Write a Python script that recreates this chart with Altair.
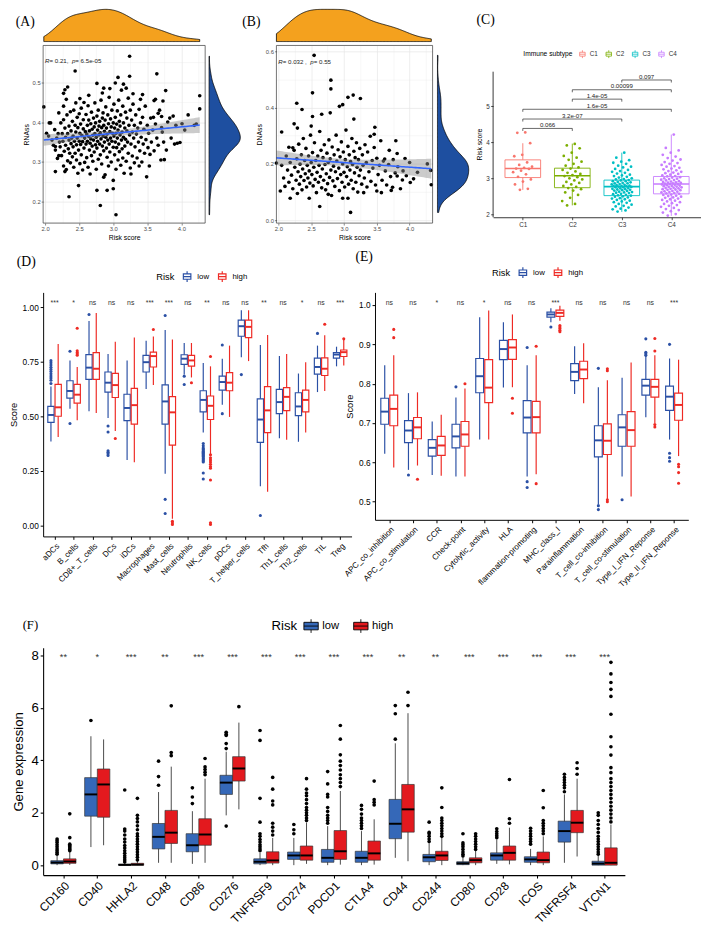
import json
import numpy as np
import pandas as pd
import altair as alt

FONT = "Liberation Sans"
SERIF = "Liberation Serif"
ORANGE = "#F4A11E"
DBLUE = "#1E4FA0"
LOWC = "#2B50A5"
HIGHC = "#EE2A24"
F_LOW = "#3568B8"
F_HIGH = "#E3191E"
C_COLS = ["#F8766D", "#7CAE00", "#00BFC4", "#C77CFF"]

# ---------------- data: panel A (Risk score vs RNAss) ----------------
A_points = [
    (3.24, 0.565), (2.44, 0.528), (3.64, 0.521), (3.07, 0.512), (3.24, 0.515), (2.76, 0.497), (3.03, 0.498),
    (2.33, 0.488), (2.29, 0.481), (2.27, 0.472), (2.31, 0.457), (3.15, 0.495), (3.19, 0.485), (3.12, 0.48),
    (3.77, 0.479), (2.86, 0.485), (2.95, 0.484), (2.84, 0.473), (2.64, 0.467), (3.29, 0.471), (3.43, 0.469),
    (3.40, 0.457), (4.27, 0.466), (1.98, 0.438), (2.27, 0.44), (2.51, 0.459), (2.57, 0.449), (3.60, 0.454),
    (3.62, 0.457), (3.73, 0.453), (4.27, 0.433), (3.66, 0.422), (3.71, 0.414), (3.59, 0.412), (4.01, 0.396),
    (3.92, 0.392), (3.83, 0.41), (3.71, 0.386), (4.19, 0.392), (3.94, 0.347), (3.98, 0.349), (2.06, 0.398),
    (2.05, 0.365), (2.15, 0.339), (2.20, 0.316), (2.15, 0.276), (2.29, 0.276), (2.35, 0.213), (2.49, 0.241),
    (2.76, 0.229), (2.81, 0.191), (2.91, 0.229), (3.0, 0.233), (3.04, 0.168), (3.0, 0.254), (2.86, 0.262),
    (3.49, 0.263), (3.75, 0.306), (3.54, 0.319), (3.38, 0.29), (3.26, 0.27),
    (2.02, 0.372), (2.08, 0.398), (2.10, 0.355), (2.12, 0.342), (2.14, 0.381), (2.15, 0.33), (2.17, 0.36),
    (2.18, 0.309), (2.19, 0.371), (2.2, 0.423), (2.21, 0.35),
    (2.22, 0.338), (2.23, 0.398), (2.24, 0.316), (2.25, 0.371), (2.26, 0.352), (2.27, 0.29), (2.27, 0.406),
    (2.28, 0.327), (2.29, 0.385), (2.3, 0.342), (2.3, 0.362), (2.31, 0.281), (2.32, 0.418), (2.33, 0.303),
    (2.33, 0.371), (2.34, 0.333), (2.35, 0.355), (2.35, 0.39), (2.36, 0.322), (2.37, 0.426), (2.37, 0.298),
    (2.38, 0.346), (2.38, 0.378), (2.39, 0.36), (2.4, 0.313), (2.4, 0.402),
    (2.41, 0.338), (2.41, 0.365), (2.42, 0.287), (2.42, 0.43), (2.43, 0.352), (2.44, 0.392), (2.44, 0.322),
    (2.45, 0.375), (2.45, 0.448), (2.46, 0.305), (2.46, 0.343), (2.47, 0.412), (2.47, 0.36), (2.48, 0.272),
    (2.48, 0.386), (2.49, 0.33), (2.5, 0.352), (2.5, 0.421), (2.51, 0.296), (2.51, 0.372), (2.52, 0.344),
    (2.52, 0.395), (2.53, 0.318), (2.53, 0.435), (2.54, 0.366), (2.55, 0.28), (2.55, 0.351), (2.56, 0.383),
    (2.56, 0.406), (2.57, 0.335), (2.58, 0.36), (2.58, 0.299), (2.59, 0.376), (2.6, 0.345), (2.6, 0.419),
    (2.61, 0.37), (2.61, 0.311), (2.62, 0.392), (2.62, 0.352), (2.63, 0.441), (2.63, 0.287), (2.64, 0.364),
    (2.64, 0.405), (2.65, 0.33), (2.65, 0.378), (2.66, 0.347), (2.66, 0.27), (2.67, 0.396), (2.67, 0.358),
    (2.68, 0.316), (2.68, 0.425), (2.69, 0.382), (2.69, 0.34), (2.7, 0.367), (2.7, 0.302), (2.71, 0.41),
    (2.71, 0.355), (2.72, 0.388), (2.72, 0.325), (2.73, 0.448), (2.73, 0.371), (2.74, 0.343), (2.74, 0.398),
    (2.75, 0.282), (2.75, 0.362), (2.76, 0.415), (2.76, 0.335), (2.77, 0.38), (2.77, 0.352), (2.78, 0.307),
    (2.78, 0.43), (2.79, 0.39), (2.79, 0.368), (2.8, 0.345), (2.8, 0.402),
    (2.81, 0.373), (2.81, 0.318), (2.82, 0.455), (2.82, 0.358), (2.83, 0.386), (2.83, 0.295), (2.84, 0.41),
    (2.84, 0.34), (2.85, 0.365), (2.85, 0.423), (2.86, 0.328), (2.86, 0.392), (2.87, 0.35), (2.87, 0.377),
    (2.88, 0.268), (2.88, 0.405), (2.89, 0.362), (2.89, 0.438), (2.9, 0.335), (2.9, 0.385), (2.91, 0.312),
    (2.91, 0.37), (2.92, 0.418), (2.92, 0.355), (2.93, 0.396), (2.93, 0.29), (2.94, 0.345), (2.94, 0.462),
    (2.95, 0.376), (2.95, 0.325), (2.96, 0.408), (2.96, 0.36), (2.97, 0.388), (2.97, 0.3), (2.98, 0.43),
    (2.98, 0.352), (2.99, 0.372), (3.0, 0.337), (3.0, 0.398),
    (3.01, 0.365), (3.01, 0.445), (3.02, 0.318), (3.02, 0.385), (3.03, 0.35), (3.03, 0.412), (3.04, 0.282),
    (3.04, 0.372), (3.05, 0.395), (3.05, 0.336), (3.06, 0.428), (3.06, 0.36), (3.07, 0.305), (3.07, 0.38),
    (3.08, 0.345), (3.08, 0.455), (3.09, 0.402), (3.09, 0.326), (3.1, 0.368), (3.1, 0.39), (3.11, 0.292),
    (3.11, 0.418), (3.12, 0.355), (3.13, 0.375), (3.13, 0.333), (3.14, 0.44), (3.14, 0.31), (3.15, 0.398),
    (3.15, 0.362), (3.16, 0.272), (3.17, 0.385), (3.17, 0.34), (3.18, 0.425), (3.18, 0.357), (3.19, 0.302),
    (3.2, 0.378), (3.2, 0.41),
    (3.21, 0.35), (3.22, 0.46), (3.22, 0.322), (3.23, 0.392), (3.24, 0.368), (3.25, 0.285), (3.25, 0.43),
    (3.26, 0.345), (3.27, 0.405), (3.28, 0.315), (3.28, 0.375), (3.29, 0.445), (3.3, 0.36), (3.31, 0.298),
    (3.31, 0.392), (3.32, 0.338), (3.33, 0.418), (3.34, 0.37), (3.35, 0.31), (3.36, 0.385), (3.37, 0.35),
    (3.38, 0.432), (3.39, 0.328), (3.4, 0.398),
    (3.41, 0.362), (3.42, 0.3), (3.43, 0.412), (3.44, 0.345), (3.45, 0.382), (3.46, 0.322), (3.47, 0.44),
    (3.48, 0.356), (3.5, 0.392), (3.51, 0.336), (3.52, 0.372), (3.53, 0.29), (3.55, 0.41), (3.56, 0.35),
    (3.58, 0.38), (3.6, 0.328),
    (3.62, 0.395), (3.64, 0.36), (3.66, 0.342), (3.68, 0.43), (3.7, 0.305), (3.72, 0.375), (3.74, 0.35),
    (3.78, 0.33), (3.8, 0.4), (3.85, 0.36), (3.88, 0.415), (3.9, 0.345), (4.05, 0.38), (4.1, 0.418), (4.22, 0.395),
]

# ---------------- data: panel B (Risk score vs DNAss) ----------------
B_points = [
    (2.545, 0.585), (2.80, 0.497), (2.80, 0.466), (2.52, 0.452), (3.14, 0.444), (3.06, 0.436), (3.25, 0.432),
    (2.28, 0.415), (2.36, 0.393), (2.93, 0.404), (2.98, 0.41), (2.24, 0.342), (2.29, 0.327), (2.05, 0.313),
    (2.50, 0.334), (2.52, 0.368), (2.66, 0.376), (2.79, 0.381), (3.15, 0.359), (3.47, 0.33), (3.46, 0.305),
    (3.79, 0.282), (3.69, 0.248), (3.81, 0.237), (3.62, 0.217), (3.93, 0.219), (4.27, 0.2), (4.32, 0.177),
    (4.33, 0.126), (2.16, 0.259), (2.22, 0.257), (1.97, 0.203), (2.03, 0.104), (2.18, 0.078), (2.47, 0.078),
    (2.63, 0.049), (3.1, 0.028), (2.76, 0.092), (2.98, 0.078), (3.06, 0.078), (3.30, 0.098), (3.50, 0.104),
    (3.57, 0.098), (3.74, 0.117), (3.72, 0.106), (3.89, 0.143), (4.01, 0.134), (4.06, 0.147), (3.81, 0.157),
    (2.05, 0.195), (2.08, 0.15), (2.1, 0.12), (2.12, 0.228), (2.14, 0.178), (2.16, 0.135), (2.18, 0.205),
    (2.2, 0.16), (2.22, 0.112), (2.24, 0.248), (2.25, 0.188), (2.27, 0.142), (2.28, 0.218), (2.29, 0.095),
    (2.3, 0.172),
    (2.31, 0.27), (2.32, 0.128), (2.33, 0.199), (2.34, 0.155), (2.35, 0.232), (2.36, 0.108), (2.37, 0.182),
    (2.38, 0.29), (2.39, 0.141), (2.4, 0.212), (2.41, 0.165), (2.42, 0.255), (2.43, 0.118), (2.44, 0.195),
    (2.45, 0.15), (2.46, 0.228), (2.47, 0.175), (2.48, 0.132), (2.49, 0.302), (2.5, 0.205),
    (2.51, 0.162), (2.52, 0.24), (2.53, 0.122), (2.54, 0.188), (2.55, 0.275), (2.56, 0.145), (2.57, 0.212),
    (2.58, 0.098), (2.59, 0.17), (2.6, 0.228), (2.61, 0.135), (2.62, 0.195), (2.63, 0.315), (2.64, 0.155),
    (2.65, 0.248), (2.66, 0.115), (2.67, 0.182), (2.68, 0.222), (2.69, 0.142), (2.7, 0.268),
    (2.71, 0.198), (2.72, 0.108), (2.73, 0.165), (2.74, 0.238), (2.75, 0.13), (2.76, 0.205), (2.77, 0.285),
    (2.78, 0.152), (2.79, 0.218), (2.8, 0.178), (2.81, 0.088), (2.82, 0.26), (2.83, 0.14), (2.84, 0.192),
    (2.85, 0.232), (2.86, 0.12), (2.87, 0.172), (2.88, 0.302), (2.89, 0.21), (2.9, 0.148),
    (2.91, 0.25), (2.92, 0.185), (2.93, 0.105), (2.94, 0.225), (2.95, 0.162), (2.96, 0.278), (2.97, 0.135),
    (2.98, 0.2), (2.99, 0.242), (3.0, 0.17), (3.01, 0.118), (3.02, 0.215), (3.03, 0.32), (3.04, 0.155),
    (3.05, 0.19), (3.06, 0.262), (3.07, 0.128), (3.08, 0.232), (3.09, 0.178), (3.1, 0.208),
    (3.11, 0.142), (3.12, 0.29), (3.13, 0.198), (3.14, 0.112), (3.15, 0.245), (3.16, 0.168), (3.17, 0.222),
    (3.18, 0.135), (3.19, 0.275), (3.2, 0.188), (3.21, 0.1), (3.22, 0.215), (3.23, 0.158), (3.24, 0.255),
    (3.25, 0.178), (3.27, 0.128), (3.28, 0.232), (3.29, 0.195),
    (3.31, 0.15), (3.32, 0.268), (3.34, 0.205), (3.35, 0.118), (3.36, 0.242), (3.38, 0.172), (3.4, 0.298),
    (3.41, 0.138), (3.43, 0.212), (3.44, 0.185), (3.46, 0.258), (3.48, 0.125), (3.5, 0.22), (3.52, 0.162),
    (3.54, 0.195), (3.56, 0.282), (3.58, 0.142),
    (3.6, 0.21), (3.63, 0.175), (3.65, 0.125), (3.68, 0.198), (3.71, 0.155), (3.75, 0.215), (3.78, 0.168),
    (3.82, 0.19), (3.86, 0.112), (3.9, 0.175), (3.95, 0.158), (4.0, 0.205), (4.12, 0.17),
]

# ---------------- data: panel C (risk score by immune subtype) ----------------
C_groups = ["C1", "C2", "C3", "C4"]
C_q1 = [3.03, 2.75, 2.53, 2.58]
C_med = [3.28, 3.08, 2.78, 2.85]
C_q3 = [3.52, 3.29, 2.96, 3.06]
C_lw = [2.69, 2.26, 2.08, 1.97]
C_uw = [3.98, 3.97, 3.72, 4.22]
C1_vals = [4.28, 4.27, 3.98, 3.66, 3.62, 3.45, 3.38, 3.33, 3.3, 3.28, 3.27, 3.22, 3.18, 3.12, 3.05, 2.98,
           2.92, 2.84, 2.72, 2.69]
C2_vals = [3.96, 3.92, 3.84, 3.72, 3.63, 3.58, 3.52, 3.47, 3.41, 3.36, 3.31, 3.28, 3.24, 3.2, 3.16, 3.13,
           3.1, 3.07, 3.04, 3.01, 2.98, 2.95, 2.91, 2.88, 2.84, 2.8, 2.77, 2.74, 2.71, 2.67, 2.62, 2.55, 2.47,
           2.38, 2.3, 2.26]
C3_vals = [3.72, 3.58, 3.51, 3.47, 3.44, 3.41, 3.36, 3.33, 3.31, 3.27, 3.24, 3.21, 3.19, 3.16, 3.14, 3.11,
           3.09, 3.07, 3.05, 3.03, 3.01, 2.99, 2.98, 2.96, 2.95, 2.93, 2.93, 2.91, 2.9, 2.88, 2.87, 2.87, 2.85,
           2.84, 2.83, 2.82, 2.81, 2.8, 2.8, 2.79, 2.78, 2.77, 2.76, 2.76, 2.74, 2.73, 2.72, 2.71, 2.7, 2.69,
           2.68, 2.67, 2.66, 2.64, 2.63, 2.62, 2.61, 2.6, 2.58, 2.57, 2.55, 2.54, 2.53, 2.51, 2.5, 2.48, 2.46,
           2.45, 2.43, 2.41, 2.39, 2.37, 2.35, 2.33, 2.3, 2.28, 2.25, 2.23, 2.2, 2.17, 2.15, 2.12, 2.09]
C4_vals = [4.22, 3.85, 3.78, 3.72, 3.66, 3.61, 3.57, 3.53, 3.5, 3.46, 3.43, 3.41, 3.38, 3.35, 3.33, 3.3,
           3.28, 3.26, 3.23, 3.21, 3.19, 3.17, 3.15, 3.13, 3.11, 3.09, 3.07, 3.06, 3.04, 3.03, 3.01, 3.0,
           2.99, 2.97, 2.96, 2.95, 2.93, 2.92, 2.91, 2.9, 2.89, 2.88, 2.87, 2.86, 2.85, 2.85, 2.84, 2.83,
           2.82, 2.81, 2.8, 2.79, 2.78, 2.77, 2.76, 2.75, 2.74, 2.73, 2.72, 2.71, 2.7, 2.69, 2.68, 2.66,
           2.65, 2.64, 2.63, 2.62, 2.6, 2.59, 2.58, 2.56, 2.55, 2.53, 2.52, 2.5, 2.48, 2.47, 2.45, 2.43,
           2.41, 2.39, 2.37, 2.35, 2.32, 2.3, 2.27, 2.25, 2.22, 2.19, 2.16, 2.13, 2.1, 2.06, 2.02, 1.98]
C_br_from = [0, 0, 0, 1, 1, 2]
C_br_to = [1, 2, 3, 2, 3, 3]
C_br_y = [4.39, 4.65, 4.92, 5.20, 5.46, 5.73]
C_br_lab = ["0.066", "3.2e-07", "1.6e-05", "1.4e-05", "0.00099", "0.097"]

# ---------------- data: panel D (immune cell scores) ----------------
D_cats = ["aDCs", "B_cells", "CD8+_T_cells", "DCs", "iDCs", "Macrophages", "Mast_cells", "Neutrophils",
          "NK_cells", "pDCs", "T_helper_cells", "Tfh", "Th1_cells", "Th2_cells", "TIL", "Treg"]
D_low = dict(
    q1=[0.472, 0.583, 0.669, 0.611, 0.480, 0.703, 0.464, 0.738, 0.520, 0.620, 0.867, 0.380, 0.512, 0.503, 0.693, 0.767],
    med=[0.506, 0.616, 0.723, 0.654, 0.538, 0.748, 0.568, 0.764, 0.575, 0.657, 0.913, 0.485, 0.565, 0.545, 0.726, 0.783],
    q3=[0.545, 0.663, 0.783, 0.703, 0.601, 0.779, 0.644, 0.782, 0.617, 0.684, 0.941, 0.580, 0.623, 0.608, 0.767, 0.792],
    lw=[0.384, 0.535, 0.523, 0.492, 0.300, 0.625, 0.236, 0.691, 0.425, 0.553, 0.771, 0.179, 0.399, 0.383, 0.611, 0.729],
    uw=[0.636, 0.756, 0.937, 0.786, 0.756, 0.846, 0.896, 0.836, 0.744, 0.764, 0.986, 0.827, 0.776, 0.696, 0.824, 0.819],
)
D_high = dict(
    q1=[0.500, 0.560, 0.669, 0.586, 0.464, 0.726, 0.368, 0.730, 0.485, 0.617, 0.861, 0.425, 0.526, 0.520, 0.687, 0.774],
    med=[0.541, 0.599, 0.718, 0.643, 0.551, 0.776, 0.518, 0.756, 0.548, 0.654, 0.910, 0.527, 0.589, 0.575, 0.718, 0.794],
    q3=[0.646, 0.646, 0.792, 0.697, 0.628, 0.794, 0.590, 0.779, 0.593, 0.700, 0.941, 0.636, 0.631, 0.620, 0.768, 0.804],
    lw=[0.405, 0.482, 0.515, 0.432, 0.289, 0.643, 0.030, 0.678, 0.327, 0.497, 0.753, 0.154, 0.392, 0.425, 0.616, 0.733],
    uw=[0.831, 0.726, 0.973, 0.842, 0.861, 0.866, 0.852, 0.836, 0.729, 0.824, 0.986, 0.873, 0.786, 0.748, 0.872, 0.854],
)
D_out_low = [
    [0.65, 0.665, 0.675, 0.685, 0.695, 0.705, 0.715, 0.725, 0.735, 0.745, 0.755], [0.798, 0.467], [0.967],
    [0.455, 0.428, 0.342, 0.335, 0.328, 0.320], [], [], [0.962, 0.119, 0.054], [0.684, 0.646],
    [0.375, 0.365, 0.355, 0.35, 0.345, 0.34, 0.335, 0.33, 0.325, 0.32, 0.315, 0.31, 0.305, 0.30, 0.295, 0.29,
     0.24, 0.212],
    [0.827, 0.512], [0.691], [0.045], [], [], [0.88], [],
]
D_out_high = [
    [], [0.904, 0.80, 0.792, 0.786, 0.78], [], [0.398], [], [0.898], [0.018, 0.010, 0.004], [0.654],
    [0.774, 0.323, 0.31, 0.30, 0.29, 0.28, 0.27, 0.262, 0.208, 0.012, 0.004], [], [], [], [], [], [0.922], [0.855],
]
D_sig = ["***", "*", "ns", "ns", "ns", "***", "***", "ns", "**", "ns", "ns", "**", "ns", "*", "ns", "***"]

# ---------------- data: panel E (immune function scores) ----------------
E_cats = ["APC_co_inhibition", "APC_co_stimulation", "CCR", "Check-point", "Cytolytic_activity", "HLA",
          "flammation-promoting", "MHC_class_I", "Parainflammation", "T_cell_co-inhibition",
          "T_cell_co-stimulation", "Type_I_IFN_Reponse", "Type_II_IFN_Reponse"]
E_low = dict(
    q1=[0.697, 0.650, 0.616, 0.637, 0.777, 0.861, 0.675, 0.969, 0.808, 0.614, 0.641, 0.771, 0.732],
    med=[0.729, 0.681, 0.637, 0.666, 0.819, 0.888, 0.714, 0.976, 0.830, 0.656, 0.689, 0.795, 0.767],
    q3=[0.763, 0.706, 0.658, 0.697, 0.864, 0.910, 0.757, 0.982, 0.851, 0.693, 0.721, 0.811, 0.794],
    lw=[0.622, 0.581, 0.568, 0.564, 0.658, 0.790, 0.564, 0.956, 0.774, 0.494, 0.564, 0.715, 0.658],
    uw=[0.847, 0.776, 0.704, 0.765, 0.969, 0.956, 0.847, 0.992, 0.895, 0.791, 0.815, 0.876, 0.864],
)
E_high = dict(
    q1=[0.693, 0.660, 0.618, 0.641, 0.752, 0.862, 0.675, 0.971, 0.813, 0.620, 0.641, 0.766, 0.707],
    med=[0.736, 0.689, 0.643, 0.671, 0.790, 0.892, 0.715, 0.980, 0.836, 0.655, 0.682, 0.792, 0.746],
    q3=[0.771, 0.714, 0.666, 0.704, 0.861, 0.912, 0.755, 0.987, 0.857, 0.698, 0.729, 0.811, 0.776],
    lw=[0.587, 0.592, 0.566, 0.564, 0.658, 0.791, 0.570, 0.960, 0.750, 0.507, 0.513, 0.700, 0.616],
    uw=[0.872, 0.778, 0.721, 0.788, 0.986, 0.976, 0.872, 0.998, 0.903, 0.809, 0.854, 0.872, 0.861],
)
E_out_low = [[], [0.568], [], [0.792], [], [], [0.892, 0.551, 0.536], [0.944], [], [0.839, 0.49, 0.48],
             [0.505], [0.914, 0.88, 0.876, 0.872], [0.9, 0.623, 0.612, 0.603]]
E_out_high = [[0.938, 0.917], [0.557], [], [0.80], [], [0.763, 0.725], [0.895, 0.546],
              [0.948, 0.944, 0.94, 0.936, 0.932], [], [0.838, 0.833, 0.505, 0.50], [],
              [0.915, 0.883, 0.696, 0.69], [0.595, 0.589, 0.574, 0.547]]
E_sig = ["ns", "ns", "*", "ns", "*", "ns", "ns", "***", "ns", "ns", "ns", "ns", "***"]

# ---------------- data: panel F (immune checkpoint gene expression) ----------------
F_cats = ["CD160", "CD40", "HHLA2", "CD48", "CD86", "CD276", "TNFRSF9", "CD274", "PDCD1", "CTLA4", "CD44",
          "CD244", "CD80", "CD28", "ICOS", "TNFRSF4", "VTCN1"]
F_low = dict(
    q1=[0.05, 1.87, 0.0, 0.62, 0.51, 2.70, 0.05, 0.22, 0.11, 0.11, 1.01, 0.13, 0.02, 0.19, 0.11, 0.88, 0.0],
    med=[0.10, 2.70, 0.01, 1.08, 0.76, 3.15, 0.13, 0.37, 0.28, 0.28, 1.58, 0.30, 0.07, 0.37, 0.22, 1.30, 0.06],
    q3=[0.17, 3.34, 0.04, 1.59, 1.20, 3.43, 0.24, 0.50, 0.60, 0.53, 2.51, 0.41, 0.13, 0.47, 0.32, 1.68, 0.15],
    lw=[0.0, 0.69, 0.0, 0.09, 0.05, 1.90, 0.0, 0.0, 0.0, 0.0, 0.28, 0.0, 0.0, 0.05, 0.0, 0.09, 0.0],
    uw=[0.35, 4.92, 0.09, 2.79, 2.06, 4.33, 0.47, 1.04, 1.49, 1.30, 4.65, 0.83, 0.30, 0.98, 0.62, 2.70, 0.37],
)
F_high = dict(
    q1=[0.07, 1.83, 0.0, 0.83, 0.76, 3.21, 0.08, 0.19, 0.22, 0.19, 1.26, 0.18, 0.09, 0.19, 0.09, 1.24, 0.0],
    med=[0.14, 3.08, 0.02, 1.24, 1.17, 3.69, 0.18, 0.37, 0.53, 0.45, 2.13, 0.37, 0.19, 0.47, 0.19, 1.62, 0.09],
    q3=[0.24, 3.67, 0.07, 2.09, 1.77, 4.14, 0.51, 0.73, 1.32, 0.92, 3.08, 0.53, 0.28, 0.73, 0.50, 2.09, 0.66],
    lw=[0.01, 0.76, 0.0, 0.09, 0.09, 2.13, 0.0, 0.05, 0.02, 0.02, 0.15, 0.0, 0.0, 0.03, 0.0, 0.33, 0.0],
    uw=[0.50, 4.80, 0.17, 3.76, 3.30, 5.44, 1.04, 1.62, 2.83, 1.75, 5.80, 1.04, 0.55, 1.43, 1.10, 3.30, 1.55],
)
F_out_low = [
    [0.42, 0.48, 0.55, 0.62, 0.7, 0.78, 0.86, 0.93, 1.0], [5.52],
    [0.12, 0.2, 0.28, 0.36, 0.45, 0.55, 0.65, 0.75, 0.88, 1.0, 1.15, 1.3, 1.38, 2.87], [3.05, 3.38, 3.97],
    [2.35, 2.6, 2.95], [1.49, 4.45, 4.64, 4.95, 5.0, 5.07],
    [0.55, 0.62, 0.7, 0.78, 0.88, 0.98, 1.1, 1.2, 1.64, 2.55, 4.76, 5.14], [1.2, 1.35, 1.55],
    [1.6, 1.7, 1.8, 1.9, 2.05, 2.2, 2.6, 2.7, 3.1, 3.57], [1.4, 1.5, 1.6, 1.7, 1.8, 1.95, 2.13, 2.28],
    [4.81, 5.78, 6.09], [0.9, 1.0, 1.1, 1.2, 1.25, 1.64], [0.35, 0.42, 0.5, 0.6, 0.7, 0.78, 0.85, 1.2],
    [1.05, 1.12, 1.2, 1.28, 1.39], [0.8, 0.9, 1.0, 1.1, 1.2, 1.3, 1.41], [2.8, 2.95, 3.05, 3.15, 3.25, 3.35, 3.47],
    [0.42, 0.5, 0.6, 0.7, 0.8, 0.9, 1.0, 1.1, 1.25, 1.4, 1.55, 1.7, 1.9, 2.0],
]
F_out_high = [
    [0.55, 0.6, 0.65, 0.7, 0.75, 0.8, 1.05, 1.96], [],
    [0.2, 0.3, 0.4, 0.5, 0.6, 0.7, 0.8, 0.9, 1.0, 1.1, 1.2, 1.35, 1.5, 1.65, 1.78, 1.9, 2.55], [4.18, 4.3, 6.08],
    [3.45, 3.55, 3.65, 3.75, 4.07], [6.05], [1.15, 1.3, 1.45, 1.6, 2.3, 2.45, 2.9, 3.35],
    [1.7, 1.8, 1.9, 2.0, 2.1, 2.2, 2.35, 2.5, 2.65, 2.75, 2.9, 3.3],
    [3.0, 3.15, 3.3, 3.45, 3.63, 3.8, 3.97, 4.21, 4.81, 5.33], [2.3, 2.4, 2.5, 3.21], [6.09, 6.6],
    [1.1, 1.2, 1.3, 1.4, 1.5, 1.6, 1.7, 1.8, 2.2, 2.95], [0.6, 0.7, 0.8, 0.9, 1.0, 1.1, 1.2], [1.6, 1.77, 3.27],
    [1.2, 1.3, 1.4, 1.5, 1.6, 1.7, 2.19, 2.85], [3.47, 3.69, 3.91],
    [1.65, 1.8, 1.95, 2.1, 2.25, 2.4, 2.55, 2.7, 2.85, 3.0, 3.15, 3.3, 3.53, 3.72, 4.2, 4.52, 4.9, 5.76, 6.44,
     6.71, 6.97, 7.3, 7.74],
]
F_sig = ["**", "*", "***", "**", "***", "***", "***", "***", "***", "***", "**", "**", "***", "***", "***",
         "***", "***"]


# ---------------- helpers ----------------
def text_layer(txt, x, y, size, font=FONT, style="normal", align="left", baseline="middle", color="black"):
    return alt.Chart(pd.DataFrame({"t": [txt]})).mark_text(
        align=align, baseline=baseline, fontSize=size, font=font, fontStyle=style, color=color
    ).encode(x=alt.value(x), y=alt.value(y), text="t:N")


AW = {" ": .278, "=": .584, ".": .278, ",": .278, "-": .333, "e": .556, "R": .722, "p": .556}


def twidth(s, size):
    return sum(AW.get(ch, .556) for ch in s) * size


def nrd0(v):
    v = np.asarray(v, dtype=float)
    sd = v.std(ddof=1)
    q75, q25 = np.percentile(v, [75, 25])
    return 0.9 * min(sd, (q75 - q25) / 1.34) * len(v) ** -0.2


def indep(ch):
    return ch.resolve_scale(color="independent", stroke="independent", fill="independent").resolve_legend(
        color="independent", stroke="independent", fill="independent")


def scatter_block(pts, xdom, ydom, xmaj, xmnr, ymaj, ymnr, ytitle, W, H, TH, MW, tag, tagx, ann, annx, anny):
    df = pd.DataFrame(pts, columns=["x", "y"])
    xs = alt.Scale(domain=xdom, nice=False, zero=False)
    ys = alt.Scale(domain=ydom, nice=False, zero=False)
    xtest = f"indexof({json.dumps(xmaj)}, datum.value) >= 0"
    ytest = f"indexof({json.dumps(ymaj)}, datum.value) >= 0"
    common = dict(grid=True, gridColor="#E6E6E6", domain=False, tickColor="#333333", tickSize=2,
                  tickWidth=0.6, labelFontSize=6, labelColor="#4D4D4D", labelFont=FONT, labelPadding=1,
                  labelFlush=False, labelOverlap=False, titleFont=FONT, titleFontSize=7,
                  titleFontWeight="normal", titleColor="black")
    xax = alt.Axis(values=sorted(xmaj + xmnr), labelExpr=f"{xtest} ? format(datum.value, '.1f') : ''",
                   gridWidth={"condition": {"test": xtest, "value": 0.7}, "value": 0.35},
                   tickOpacity={"condition": {"test": xtest, "value": 1}, "value": 0},
                   title="Risk score", titlePadding=2, **common)
    yax = alt.Axis(values=sorted(ymaj + ymnr), labelExpr=f"{ytest} ? format(datum.value, '.1f') : ''",
                   gridWidth={"condition": {"test": ytest, "value": 0.7}, "value": 0.35},
                   tickOpacity={"condition": {"test": ytest, "value": 1}, "value": 0},
                   title=ytitle, titlePadding=3, **common)
    X = lambda f: alt.X(f, scale=xs, axis=xax)
    Y = lambda f: alt.Y(f, scale=ys, axis=yax)

    x = df.x.to_numpy()
    y = df.y.to_numpy()
    slope, icpt = np.polyfit(x, y, 1)
    n = len(x)
    resid = y - (icpt + slope * x)
    s = np.sqrt((resid ** 2).sum() / (n - 2))
    sxx = ((x - x.mean()) ** 2).sum()
    xg = np.linspace(x.min(), x.max(), 80)
    yh = icpt + slope * xg
    se = s * np.sqrt(1.0 / n + (xg - x.mean()) ** 2 / sxx)
    fit = pd.DataFrame({"x": xg, "fit": yh, "lo": yh - 1.968 * se, "hi": yh + 1.968 * se})

    pts_l = alt.Chart(df).mark_circle(size=14, color="black", opacity=1).encode(x=X("x:Q"), y=Y("y:Q"))
    band = alt.Chart(fit).mark_area(color="#8C8C8C", opacity=0.45).encode(x=X("x:Q"), y=Y("lo:Q"), y2="hi:Q")
    line = alt.Chart(fit).mark_line(color="#3366FF", strokeWidth=1.6).encode(x=X("x:Q"), y=Y("fit:Q"))
    frame = alt.Chart(pd.DataFrame({"a": [0]})).mark_rect(
        fill="white", fillOpacity=0, stroke="#333333", strokeWidth=0.7
    ).encode(x=alt.value(0), x2=alt.value(W), y=alt.value(0), y2=alt.value(H))
    ann_layers = []
    cx = annx
    for part, italic in ann:
        ann_layers.append(text_layer(part, cx, anny, 6.3, style="italic" if italic else "normal", color="#222"))
        cx += twidth(part, 6.3)
    scat = alt.layer(pts_l, band, line, frame, *ann_layers).properties(width=W, height=H)

    top_d = alt.Chart(df).transform_density(
        "x", as_=["x", "d"], extent=[float(x.min()), float(x.max())], bandwidth=float(nrd0(x)), steps=200
    ).mark_area(fill=ORANGE, stroke="black", strokeWidth=0.8, opacity=1).encode(
        x=alt.X("x:Q", scale=xs, axis=None),
        y=alt.Y("d:Q", axis=None, scale=alt.Scale(zero=True, nice=False)),
    )
    top = alt.layer(top_d, text_layer(tag, tagx, 13, 14, font=SERIF)).properties(width=W, height=TH)

    right = alt.Chart(df).transform_density(
        "y", as_=["y", "d"], extent=[float(y.min()), float(y.max())], bandwidth=float(nrd0(y)), steps=200
    ).mark_area(orient="horizontal", fill=DBLUE, stroke="black", strokeWidth=0.8, opacity=1).encode(
        y=alt.Y("y:Q", scale=ys, axis=None),
        x=alt.X("d:Q", axis=None, scale=alt.Scale(zero=True, nice=False)),
    ).properties(width=MW, height=H)

    blank = alt.Chart(pd.DataFrame({"a": [0]})).mark_point(opacity=0, size=1).encode(
        x=alt.value(1), y=alt.value(TH - 1)).properties(width=MW, height=TH)
    return alt.concat(top, blank, scat, right, columns=2, spacing=1)


BOXPATH = "M-0.7,-0.5H0.7V0.5H-0.7Z M-0.7,0H0.7 M0,-0.5V-1 M0,0.5V1"
BOXPATH_F = "M-1.05,-0.55H1.05V0.55H-1.05Z M-1.05,0H1.05 M0,-0.55V-1 M0,0.55V1"


def panel_c():
    W, H = 213, 213
    xs = alt.Scale(domain=[-0.6, 3.6], nice=False, zero=False)
    ys = alt.Scale(domain=[1.932, 7.685], nice=False, zero=False)
    xax = alt.Axis(values=[0, 1, 2, 3], labelExpr=f"{json.dumps(C_groups)}[datum.value]", grid=False,
                   domainColor="black", domainWidth=0.8, tickColor="black", tickSize=2.5, tickWidth=0.7,
                   labelFontSize=6.5, labelColor="#333333", labelFont=FONT, labelPadding=1.5, title=None,
                   labelFlush=False, labelOverlap=False)
    yax = alt.Axis(values=[2, 3, 4, 5], format="d", grid=False, domain=False, tickColor="black", tickSize=2.5,
                   tickWidth=0.7, labelFontSize=6.5, labelColor="#333333", labelFont=FONT, labelPadding=1.5,
                   title="Risk score", titleFont=FONT, titleFontSize=7, titleFontWeight="normal",
                   titleColor="black", titleY=138, titlePadding=3, labelFlush=False, labelOverlap=False)
    X = lambda f: alt.X(f, scale=xs, axis=xax)
    Y = lambda f: alt.Y(f, scale=ys, axis=yax)
    cscale = alt.Scale(domain=C_groups, range=C_COLS)
    # same colours, listed in reverse so this scale is not merged with the legend scale
    cscale2 = alt.Scale(domain=C_groups[::-1], range=C_COLS[::-1])

    bdf = pd.DataFrame({"g": C_groups, "i": list(range(4)), "q1": C_q1, "med": C_med, "q3": C_q3,
                        "lw": C_lw, "uw": C_uw})
    bdf["g2"] = bdf["g"]
    bdf["x1"] = bdf["i"] - 0.36
    bdf["x2"] = bdf["i"] + 0.36
    rows = []
    for gi, vals in enumerate([C1_vals, C2_vals, C3_vals, C4_vals]):
        for v in vals:
            rows.append({"g2": C_groups[gi], "i": gi, "v": v})
    pdf = pd.DataFrame(rows)
    br = pd.DataFrame({"a": C_br_from, "b": C_br_to, "y": C_br_y, "lab": C_br_lab})
    br["ye"] = br["y"] - 0.07
    br["m"] = (br["a"] + br["b"]) / 2

    whisk = alt.Chart(bdf).mark_rule(strokeWidth=0.9).encode(
        x=X("i:Q"), y=Y("lw:Q"), y2="uw:Q", color=alt.Color("g2:N", scale=cscale2, legend=None))
    box = alt.Chart(bdf).mark_rect(fill="white", strokeWidth=0.9).encode(
        x=X("x1:Q"), x2="x2:Q", y=Y("q1:Q"), y2="q3:Q",
        stroke=alt.Stroke("g:N", scale=cscale, legend=alt.Legend(
            orient="none", legendX=31, legendY=41, direction="horizontal", title="Immune subtype",
            titleOrient="left", titleFont=FONT, titleFontSize=6.8, titleFontWeight="normal", titleColor="black",
            titlePadding=5, labelFont=FONT, labelFontSize=6.5, labelColor="#333333", symbolType=BOXPATH,
            symbolSize=64, symbolStrokeWidth=0.8, symbolFillColor="white", columnPadding=6, labelOffset=3)))
    med = alt.Chart(bdf).mark_rule(strokeWidth=1.6).encode(
        x=X("x1:Q"), x2="x2:Q", y=Y("med:Q"), color=alt.Color("g2:N", scale=cscale2, legend=None))
    pts = alt.Chart(pdf).transform_window(rn="row_number()", groupby=["g2"]).transform_calculate(
        jx="datum.i + ((datum.rn * 0.618034) % 1 - 0.5) * 0.42"
    ).mark_circle(size=8, opacity=1).encode(
        x=X("jx:Q"), y=Y("v:Q"), color=alt.Color("g2:N", scale=cscale2, legend=None))
    bh = alt.Chart(br).mark_rule(color="black", strokeWidth=0.6).encode(x=X("a:Q"), x2="b:Q", y=Y("y:Q"))
    bl = alt.Chart(br).mark_rule(color="black", strokeWidth=0.6).encode(x=X("a:Q"), y=Y("ye:Q"), y2="y:Q")
    brr = alt.Chart(br).mark_rule(color="black", strokeWidth=0.6).encode(x=X("b:Q"), y=Y("ye:Q"), y2="y:Q")
    bt = alt.Chart(br).mark_text(fontSize=6.3, font=FONT, color="#222222", baseline="bottom", dy=-0.5).encode(
        x=X("m:Q"), y=Y("y:Q"), text="lab:N")
    axline = alt.Chart(pd.DataFrame({"a": [1.932], "b": [5.96]})).mark_rule(
        color="black", strokeWidth=0.8).encode(x=alt.value(0), y=Y("a:Q"), y2="b:Q")
    tag = text_layer("(C)", -17, 11, 14, font=SERIF)
    return alt.layer(whisk, box, med, pts, bh, bl, brr, bt, axline, tag).properties(width=W, height=H)


def box_panel(cats, lo, hi, olo, ohi, sig, sig_y, ydom, yvals, yfmt, W, H, st):
    n = len(cats)
    off, bw = st["off"], st["bw"]
    rows = []
    for g, d, sgn in (("low", lo, -1), ("high", hi, 1)):
        for i in range(n):
            c = i + sgn * off
            rows.append({"g": g, "g2": g, "c": c, "x1": c - bw / 2, "x2": c + bw / 2, "q1": d["q1"][i],
                         "med": d["med"][i], "q3": d["q3"][i], "lw": d["lw"][i], "uw": d["uw"][i]})
    bdf = pd.DataFrame(rows)
    orows = []
    for g, od, sgn in (("low", olo, -1), ("high", ohi, 1)):
        for i, vals in enumerate(od):
            for v in vals:
                orows.append({"g2": g, "c": i + sgn * off, "v": v})
    odf = pd.DataFrame(orows)
    sdf = pd.DataFrame({"i": list(range(n)), "lab": sig, "y": [sig_y] * n})

    xs = alt.Scale(domain=[-0.6, n - 0.4], nice=False, zero=False)
    ys = alt.Scale(domain=ydom, nice=False, zero=False)
    xax = alt.Axis(values=list(range(n)), labelExpr=f"{json.dumps(cats)}[datum.value]", labelAngle=-45,
                   labelAlign="right", labelBaseline="top", grid=False, domainColor="black",
                   domainWidth=st["axw"], tickColor="black", tickSize=3, tickWidth=st["axw"],
                   labelFontSize=st["xl"], labelColor="black", labelFont=FONT, labelPadding=2, title=None,
                   labelFlush=False, labelOverlap=False, labelBound=False)
    yax = alt.Axis(values=yvals, format=yfmt, grid=False, domainColor="black", domainWidth=st["axw"],
                   tickColor="black", tickSize=3, tickWidth=st["axw"], labelFontSize=st["yl"],
                   labelColor="black", labelFont=FONT, labelPadding=2, title=st["ytitle"], titleFont=FONT,
                   titleFontSize=st["yt"], titleFontWeight="normal", titleColor="black",
                   titlePadding=st["tp"], labelFlush=False, labelOverlap=False)
    X = lambda f: alt.X(f, scale=xs, axis=xax)
    Y = lambda f: alt.Y(f, scale=ys, axis=yax)
    lg = alt.Legend(orient="none", legendX=st["lx"], legendY=st["ly"], direction="horizontal", title="Risk",
                    titleOrient="left", titleFont=FONT, titleFontSize=st["lt"], titleFontWeight="normal",
                    titleColor="black", titlePadding=6, labelFont=FONT, labelFontSize=st["ll"],
                    labelColor="black", symbolType=st["path"], symbolSize=st["ss"],
                    symbolStrokeWidth=st["ssw"], columnPadding=st["cp"], labelOffset=4,
                    **st["legextra"])
    cols = [st["c_low"], st["c_high"]]
    cs = alt.Scale(domain=["low", "high"], range=cols)
    # same colours, reversed order: keeps this scale from merging with the legend scale
    cs2 = alt.Scale(domain=["high", "low"], range=cols[::-1])
    if st["filled"]:
        whisk = alt.Chart(bdf).mark_rule(strokeWidth=0.8, color="#1A1A1A").encode(
            x=X("c:Q"), y=Y("lw:Q"), y2="uw:Q")
        box = alt.Chart(bdf).mark_rect(stroke="#333333", strokeWidth=0.7).encode(
            x=X("x1:Q"), x2="x2:Q", y=Y("q1:Q"), y2="q3:Q", fill=alt.Fill("g:N", scale=cs, legend=lg))
        med = alt.Chart(bdf).mark_rule(strokeWidth=2, color="black").encode(
            x=X("x1:Q"), x2="x2:Q", y=Y("med:Q"))
        outl = alt.Chart(odf).mark_circle(size=st["os"], opacity=1, color="black").encode(
            x=X("c:Q"), y=Y("v:Q"))
    else:
        whisk = alt.Chart(bdf).mark_rule(strokeWidth=1.2).encode(
            x=X("c:Q"), y=Y("lw:Q"), y2="uw:Q", color=alt.Color("g2:N", scale=cs2, legend=None))
        box = alt.Chart(bdf).mark_rect(fill="white", strokeWidth=1.2).encode(
            x=X("x1:Q"), x2="x2:Q", y=Y("q1:Q"), y2="q3:Q", stroke=alt.Stroke("g:N", scale=cs, legend=lg))
        med = alt.Chart(bdf).mark_rule(strokeWidth=2).encode(
            x=X("x1:Q"), x2="x2:Q", y=Y("med:Q"), color=alt.Color("g2:N", scale=cs2, legend=None))
        outl = alt.Chart(odf).mark_circle(size=st["os"], opacity=1).encode(
            x=X("c:Q"), y=Y("v:Q"), color=alt.Color("g2:N", scale=cs2, legend=None))
    sg = alt.Chart(sdf).mark_text(fontSize=st["sf"], font=FONT, color="#333333", baseline="middle").encode(
        x=X("i:Q"), y=Y("y:Q"), text="lab:N")
    tag = text_layer(st["tag"], st["tx"], st["ty"], st["tfs"], font=SERIF)
    return alt.layer(whisk, box, med, outl, sg, tag).properties(width=W, height=H)


# ---------------- build panels ----------------
A = scatter_block(A_points, [1.97, 4.35], [0.147, 0.592], [2.0, 2.5, 3.0, 3.5, 4.0], [2.25, 2.75, 3.25, 3.75, 4.25],
                  [0.2, 0.3, 0.4, 0.5], [0.15, 0.25, 0.35, 0.45, 0.55], "RNAss", 166, 182, 33, 32, "(A)", -28,
                  [("R", True), (" = 0.21, ", False), ("p", True), (" = 6.5e-05", False)], 2, 16)
B = scatter_block(B_points, [1.97, 4.35], [-0.01, 0.62], [2.0, 2.5, 3.0, 3.5, 4.0], [2.25, 2.75, 3.25, 3.75, 4.25],
                  [0.0, 0.2, 0.4, 0.6], [0.1, 0.3, 0.5], "DNAss", 160, 182, 33, 32, "(B)", -35,
                  [("R", True), (" = 0.032 , ", False), ("p", True), (" = 0.55", False)], 2, 17)
C = panel_c()

common_de = dict(off=0.19, bw=0.33, axw=1.0, xl=8.3, yl=8.5, yt=9.5, tp=4, ytitle="Score", lt=9.5, ll=8,
                 path=BOXPATH, ss=121, ssw=1.2, cp=6, legextra=dict(symbolFillColor="white"), c_low=LOWC,
                 c_high=HIGHC, filled=False, os=10, sf=7, tfs=14)
D = box_panel(D_cats, D_low, D_high, D_out_low, D_out_high, D_sig, 1.017, [-0.051, 1.068],
              [0.0, 0.25, 0.5, 0.75, 1.0], ".2f", 316, 250,
              dict(common_de, lx=116, ly=-23, tag="(D)", tx=-27, ty=-31))
E = box_panel(E_cats, E_low, E_high, E_out_low, E_out_high, E_sig, 1.006, [0.454, 1.032],
              [0.5, 0.6, 0.7, 0.8, 0.9, 1.0], ".1f", 321, 233,
              dict(common_de, lx=120, ly=-27, tag="(E)", tx=-20, ty=-36))
F = box_panel(F_cats, F_low, F_high, F_out_low, F_out_high, F_sig, 7.96, [-0.38, 8.3],
              [0, 2, 4, 6, 8], "d", 596, 233,
              dict(off=0.1875, bw=0.37, axw=1.1, xl=12, yl=13.5, yt=13.5, tp=6, ytitle="Gene expression",
                   lt=13.5, ll=11.5, path=BOXPATH_F, ss=196, ssw=0.9, cp=12,
                   legextra=dict(symbolStrokeColor="black"), c_low=F_LOW, c_high=F_HIGH, filled=True, os=14,
                   sf=9.5, tfs=13, lx=234, ly=-30, tag="(F)", tx=-21, ty=-23))

row1 = indep(alt.hconcat(indep(alt.hconcat(A, B, spacing=0)), indep(alt.vconcat(C)), spacing=5))
row2 = indep(alt.hconcat(indep(alt.vconcat(D)), indep(alt.vconcat(E)), spacing=-10))
row3 = indep(alt.hconcat(F))

chart = indep(alt.vconcat(indep(alt.vconcat(row1, row2, spacing=10)), row3, spacing=31)).properties(
    padding={"top": -12, "left": 0, "right": 0, "bottom": 0}, background="white"
).configure_view(stroke=None)

chart.save("out.html", embed_options={"renderer": "svg", "actions": False})
